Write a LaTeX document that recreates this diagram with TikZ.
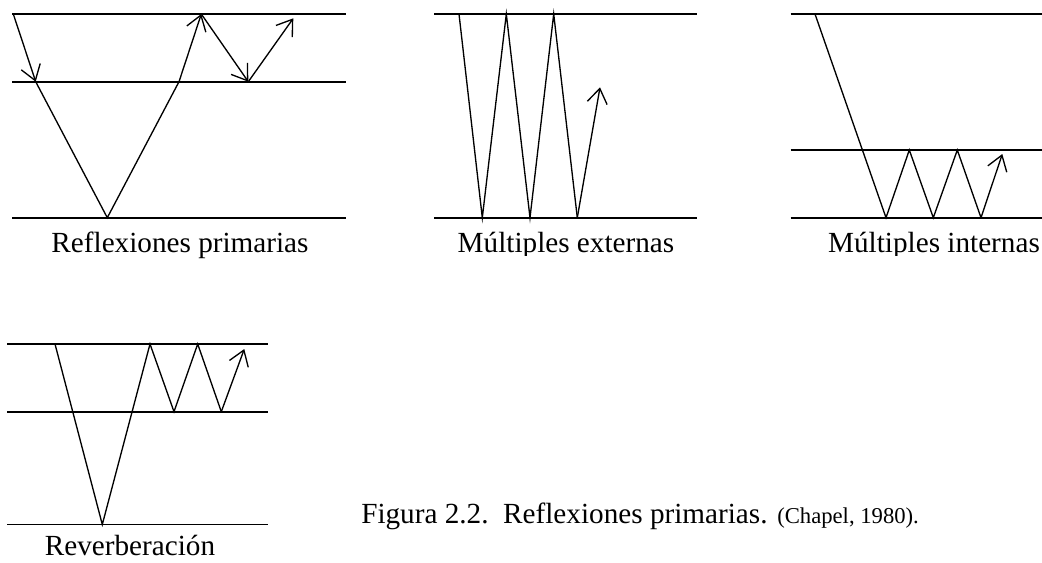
\documentclass[tikz,border=0pt]{standalone}
\usepackage{fontspec}
\setmainfont{Liberation Serif}
\usetikzlibrary{arrows.meta}
\begin{document}
\begin{tikzpicture}[x=0.75pt,y=-0.75pt,
  hline/.style={line width=1.4pt},
  ray/.style={line width=1pt, line join=miter},
  arr/.style={-{Straight Barb[length=11pt,width=15pt]}},
  lbl/.style={font=\fontsize{21.9}{26}\selectfont, anchor=base, inner sep=0pt}]
\useasboundingbox (0,0) rectangle (1042,562);

% ---- Panel 1: Reflexiones primarias
\draw[hline] (12,14) -- (346,14);
\draw[hline] (12,81.7) -- (346,81.7);
\draw[hline] (12,217.7) -- (346,217.7);
\coordinate (a1) at (13.3,14);
\coordinate (a2) at (35.7,81.7);
\coordinate (a3) at (107.3,217.7);
\coordinate (a4) at (179,81.7);
\coordinate (a5) at (201.3,14);
\coordinate (a6) at (248.3,81.7);
\coordinate (a7) at (293.3,18.3);
\draw[ray,arr] (a1) -- (a2);
\draw[ray] (a2) -- (a3) -- (a4);
\draw[ray,arr] (a4) -- (a5);
\draw[ray,arr] (a5) -- (a6);
\draw[ray,arr] (a6) -- (a7);
\node[lbl] (l1) at (180,252) {Reflexiones primarias};

% ---- Panel 2: Multiples externas
\draw[hline] (434.3,14) -- (696.7,14);
\draw[hline] (434.3,217.7) -- (696.7,217.7);
\coordinate (b1) at (459,14);
\coordinate (b2) at (482.3,217.7);
\coordinate (b3) at (506.3,14);
\coordinate (b4) at (530,217.7);
\coordinate (b5) at (553.7,14);
\coordinate (b6) at (577.3,217.7);
\coordinate (b7) at (600,87.3);
\draw[ray] (b1) -- (b2) -- (b3) -- (b4) -- (b5) -- (b6);
\draw[ray,arr] (b6) -- (b7);
\begin{scope}
  \clip (420,222) rectangle (710,255);
  \node[lbl] (l2) at (566,252) {M\'ultiples externas};
\end{scope}

% ---- Panel 3: Multiples internas
\draw[hline] (790.7,14) -- (1041.7,14);
\draw[hline] (790.7,150) -- (1041.7,150);
\draw[hline] (790.7,217.7) -- (1041.7,217.7);
\coordinate (c1) at (815,14);
\coordinate (c2) at (886,217.7);
\coordinate (c3) at (909.3,150);
\coordinate (c4) at (933.3,217.7);
\coordinate (c5) at (957.3,150);
\coordinate (c6) at (981,217.7);
\coordinate (c7) at (1002.3,154);
\draw[ray] (c1) -- (c2) -- (c3) -- (c4) -- (c5) -- (c6);
\draw[ray,arr] (c6) -- (c7);
\begin{scope}
  \clip (790,222) rectangle (1042,255);
  \node[lbl] (l3) at (934,252) {M\'ultiples internas};
\end{scope}

% ---- Panel 4: Reverberacion
\draw[hline] (7.3,344) -- (268.3,344);
\draw[hline] (7.3,411.7) -- (268.3,411.7);
\draw[hline] (7.3,524.5) -- (268.3,524.5);
\coordinate (d1) at (55,344);
\coordinate (d2) at (102.3,524.5);
\coordinate (d3) at (150,344);
\coordinate (d4) at (174,411.7);
\coordinate (d5) at (197.7,344);
\coordinate (d6) at (221.3,411.7);
\coordinate (d7) at (244.3,349);
\draw[ray] (d1) -- (d2) -- (d3) -- (d4) -- (d5) -- (d6);
\draw[ray,arr] (d6) -- (d7);
\node[lbl] (l4) at (130,555) {Reverberaci\'on};

% ---- Caption
\node[lbl, anchor=base west] (cap) at (361,523) {Figura 2.2.\ \ Reflexiones primarias. {\fontsize{17}{20}\selectfont(Chapel, 1980).}};
\end{tikzpicture}
\end{document}
